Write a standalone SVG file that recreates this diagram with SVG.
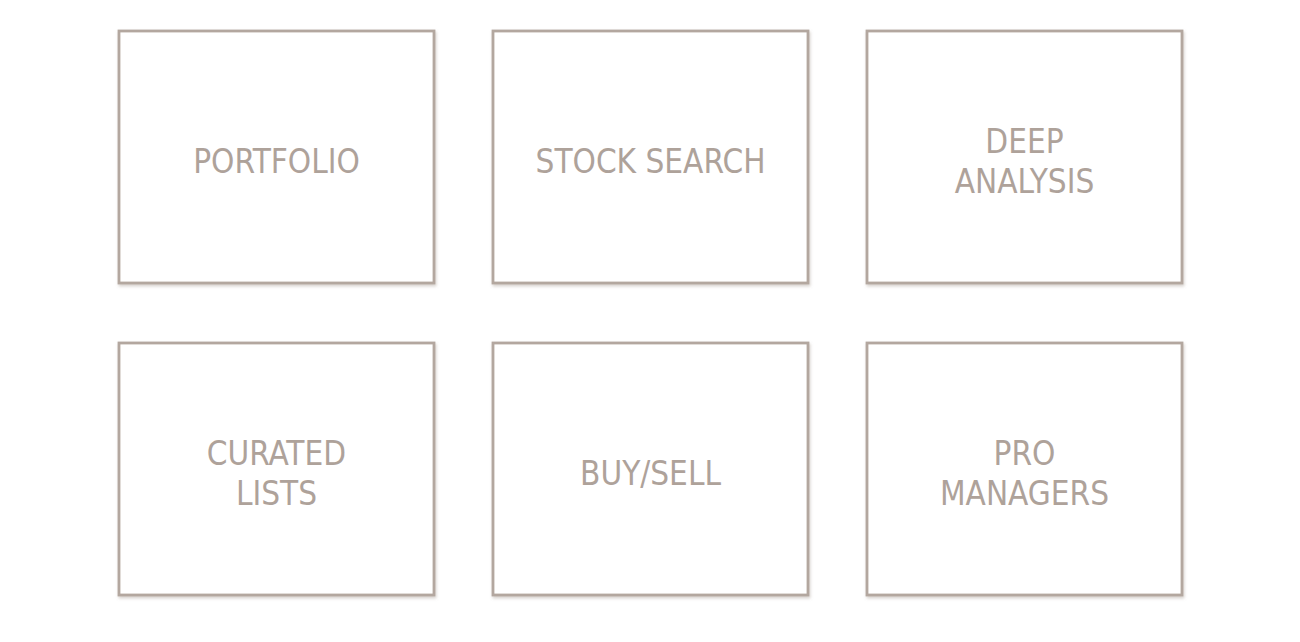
<svg xmlns="http://www.w3.org/2000/svg" width="1300" height="642" viewBox="0 0 1300 642">
  <defs>
    <filter id="sh" x="-5%" y="-5%" width="110%" height="110%">
      <feDropShadow dx="1" dy="2" stdDeviation="1.5" flood-color="#8a7c72" flood-opacity="0.35"/>
    </filter>
  </defs>
  <style>
    .box { fill: #ffffff; stroke: #b3a79f; stroke-width: 2.8; filter: url(#sh); }
    .lbl { font-family: "DejaVu Sans Condensed", "DejaVu Sans", sans-serif; font-stretch: condensed; font-size: 33px; fill: #aea29a; text-anchor: middle; }
  </style>
  <rect width="1300" height="642" fill="#ffffff"/>
  <g id="connectors"></g>
  <g id="portfolio">
    <rect class="box" x="119" y="31" width="315" height="252"/>
    <text class="lbl" x="276.5" y="173">PORTFOLIO</text>
  </g>
  <g id="stock-search">
    <rect class="box" x="493" y="31" width="315" height="252"/>
    <text class="lbl" x="650.5" y="173">STOCK SEARCH</text>
  </g>
  <g id="deep-analysis">
    <rect class="box" x="867" y="31" width="315" height="252"/>
    <text class="lbl" x="1024.5" y="153">DEEP</text>
    <text class="lbl" x="1024.5" y="193">ANALYSIS</text>
  </g>
  <g id="curated-lists">
    <rect class="box" x="119" y="343" width="315" height="252"/>
    <text class="lbl" x="276.5" y="465">CURATED</text>
    <text class="lbl" x="276.5" y="505">LISTS</text>
  </g>
  <g id="buy-sell">
    <rect class="box" x="493" y="343" width="315" height="252"/>
    <text class="lbl" x="650.5" y="485">BUY/SELL</text>
  </g>
  <g id="pro-managers">
    <rect class="box" x="867" y="343" width="315" height="252"/>
    <text class="lbl" x="1024.5" y="465">PRO</text>
    <text class="lbl" x="1024.5" y="505">MANAGERS</text>
  </g>
</svg>
